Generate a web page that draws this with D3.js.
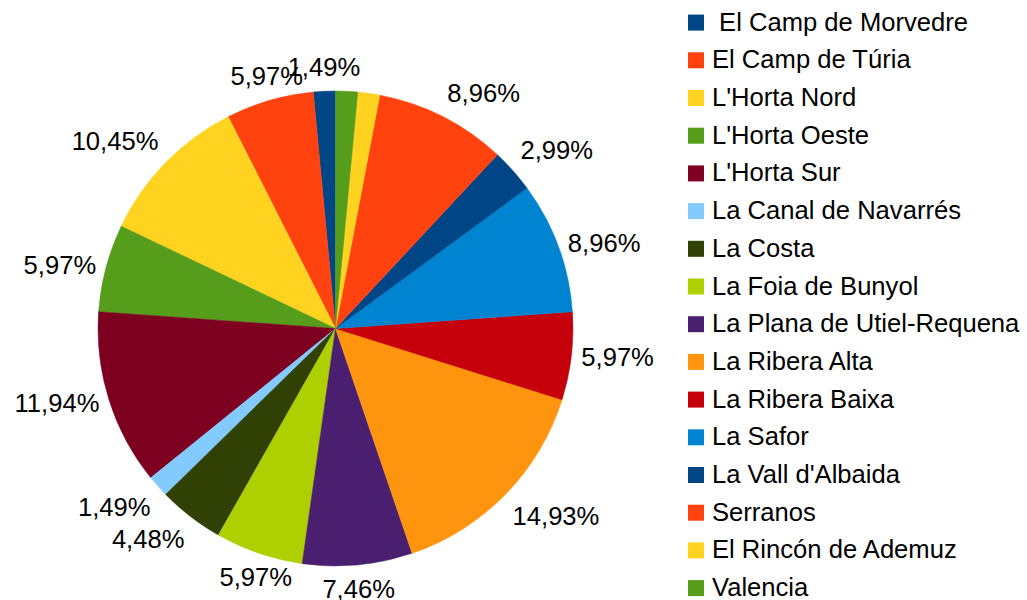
<!DOCTYPE html>
<html>
<head>
<meta charset="utf-8">
<script src="https://cdn.jsdelivr.net/npm/d3@7"></script>
<style>
  body { margin: 0; background: #fff; }
  text { font-family: "Liberation Sans", Arial, sans-serif; fill: #000; }
</style>
</head>
<body>
<svg id="chart" width="1027" height="600"></svg>
<script>
var width = 1027, height = 600;

// comarcas, in legend order
var names = [" El Camp de Morvedre", "El Camp de Túria", "L'Horta Nord", "L'Horta Oeste",
  "L'Horta Sur", "La Canal de Navarrés", "La Costa", "La Foia de Bunyol",
  "La Plana de Utiel-Requena", "La Ribera Alta", "La Ribera Baixa", "La Safor",
  "La Vall d'Albaida", "Serranos", "El Rincón de Ademuz", "Valencia"];
var counts = [1, 4, 7, 4, 8, 1, 3, 4, 5, 10, 4, 6, 2, 6, 1, 1];
var colors = ["#004586", "#ff420e", "#ffd320", "#579d1c", "#7e0021", "#83caff", "#314004",
  "#aecf00", "#4b1f6f", "#ff950e", "#c5000b", "#0084d1", "#004586", "#ff420e", "#ffd320", "#579d1c"];
// labels that the original hides because they overlap
var hiddenLabels = ["El Rincón de Ademuz", "Valencia"];

var cx = 335.5, cy = 328.5, radius = 237.5;
var fontSize = 25.6;
var total = d3.sum(counts);
var fmt = function (v) { return (v / total * 100).toFixed(2).replace(".", ",") + "%"; };

var color = d3.scaleOrdinal().domain(names).range(colors);

var data = names.map(function (n, i) { return { name: n, value: counts[i] }; });

// counter-clockwise from 12 o'clock
var pie = d3.pie().sort(null).value(function (d) { return d.value; })
  .startAngle(0).endAngle(-2 * Math.PI);
var arc = d3.arc().innerRadius(0).outerRadius(radius);

var svg = d3.select("#chart");
var g = svg.append("g").attr("transform", "translate(" + cx + "," + cy + ")");

var arcs = pie(data);

g.selectAll(".slice")
  .data(arcs)
  .enter().append("path")
  .attr("class", "slice")
  .attr("d", arc)
  .style("fill", function (d) { return color(d.data.name); })
  .style("stroke", function (d) { return color(d.data.name); })
  .style("stroke-width", 0.5);

// percentage labels outside the pie, aligned like office charts do
var labels = g.selectAll(".pct")
  .data(arcs.filter(function (d) { return hiddenLabels.indexOf(d.data.name) < 0; }))
  .enter().append("text")
  .attr("class", "pct")
  .style("font-size", fontSize + "px")
  .attr("text-anchor", "middle")
  .attr("dy", "0.35em")
  .text(function (d) { return fmt(d.data.value); });

labels.each(function (d) {
  var w = this.getComputedTextLength();
  var h = fontSize * 1.12;
  var a = (d.startAngle + d.endAngle) / 2;
  var px = Math.sin(a) * (radius + 10), py = -Math.cos(a) * (radius + 10);
  // degrees counter-clockwise from 3 o'clock
  var phi = ((90 - a * 180 / Math.PI) % 360 + 360) % 360;
  var sector = Math.floor(((phi + 22.5) % 360) / 45);
  // right, right-top, top, left-top, left, left-bottom, bottom, right-bottom
  var ox = [1, 1, 0, -1, -1, -1, 0, 1][sector];
  var oy = [0, -1, -1, -1, 0, 1, 1, 1][sector];
  d3.select(this).attr("x", px + ox * w / 2).attr("y", py + oy * h / 2);
});

// legend
var legend = svg.selectAll(".legend")
  .data(names)
  .enter().append("g")
  .attr("class", "legend")
  .attr("transform", function (d, i) { return "translate(688," + (30.6 + i * 37.7) + ")"; });

legend.append("rect")
  .attr("x", 0)
  .attr("y", -16)
  .attr("width", 16)
  .attr("height", 16)
  .style("fill", function (d) { return color(d); });

legend.append("text")
  .attr("x", 24)
  .attr("y", 0)
  .style("font-size", fontSize + "px")
  .style("white-space", "pre")
  .text(function (d) { return d; });
</script>
</body>
</html>
